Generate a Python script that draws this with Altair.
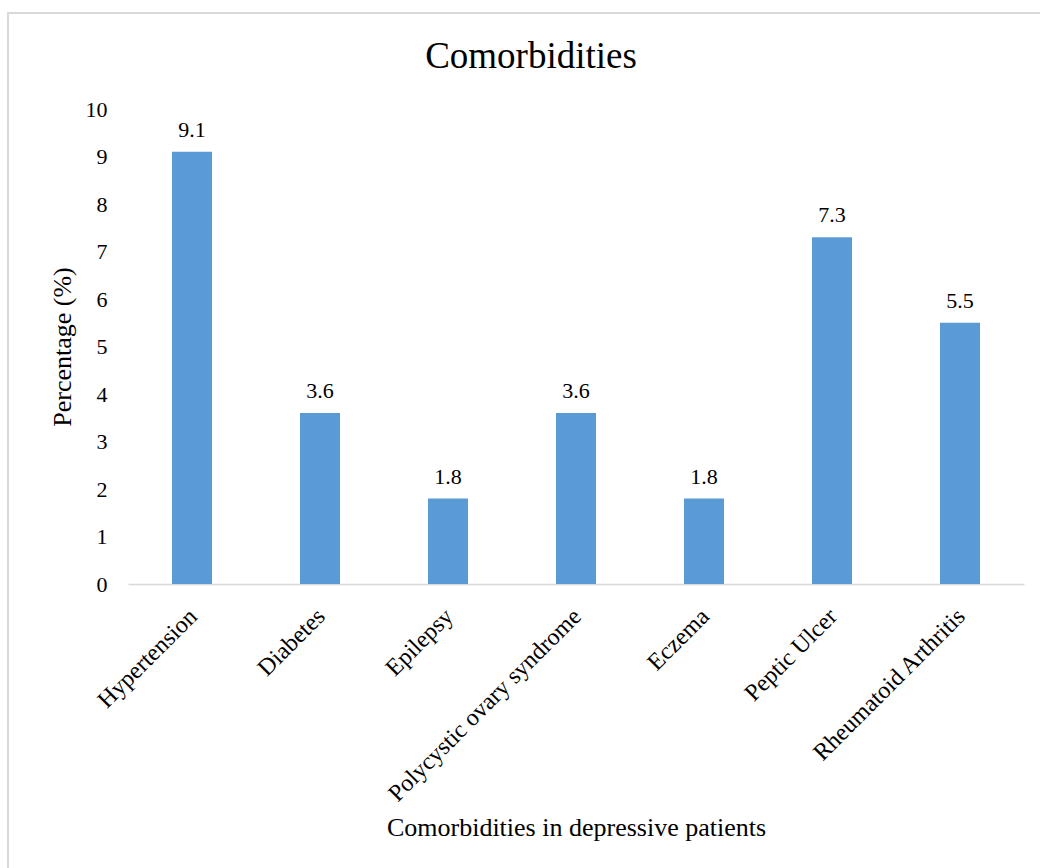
import altair as alt
import pandas as pd

categories = ["Hypertension", "Diabetes", "Epilepsy", "Polycystic ovary syndrome",
              "Eczema", "Peptic Ulcer", "Rheumatoid Arthritis"]
values = [9.1, 3.6, 1.8, 3.6, 1.8, 7.3, 5.5]
y_ticks = [0, 1, 2, 3, 4, 5, 6, 7, 8, 9, 10]
chart_title = "Comorbidities"

df = pd.DataFrame({"cat": categories, "val": values})
df["lbl"] = [f"{v:.1f}" for v in values]

FONT = "Liberation Serif"
W, H = 896, 475
LEFT, TOP = 128, 109

x_enc = alt.X("cat:N", sort=categories,
              axis=alt.Axis(title="Comorbidities in depressive patients",
                            labelAngle=-45, labelAlign="right", labelBaseline="top",
                            labelPadding=20, labelOffset=-7, labelFontSize=24,
                            labelLimit=0,
                            labelFont=FONT, labelColor="#000000",
                            ticks=False, domainColor="#d9d9d9", domainWidth=1.5,
                            titleFont=FONT, titleFontSize=26, titleFontWeight="normal",
                            titleColor="#000000", titleX=W / 2, titleY=243,
                            titleAlign="center", titleBaseline="middle"))
y_enc = alt.Y("val:Q", scale=alt.Scale(domain=[0, 10], nice=False),
              axis=alt.Axis(title="Percentage (%)", values=y_ticks, grid=False,
                            ticks=False, domain=False, labelPadding=21,
                            labelFont=FONT, labelFontSize=22, labelColor="#000000",
                            titleFont=FONT, titleFontSize=26, titleFontWeight="normal",
                            titleColor="#000000", titleAngle=270, titleX=-66,
                            titleY=H / 2, titleAlign="center", titleBaseline="middle"))

bars = alt.Chart(df).mark_bar(size=40, color="#5B9BD5").encode(x=x_enc, y=y_enc)

labels = alt.Chart(df).mark_text(
    font=FONT, fontSize=22, fontStyle="normal", fontWeight="normal",
    baseline="alphabetic", dy=-15, color="#000000"
).encode(x=alt.X("cat:N", sort=categories), y=alt.Y("val:Q"), text="lbl:N")

border = alt.Chart(alt.Data(values=[{}])).mark_rect(
    fillOpacity=0, stroke="#d9d9d9", strokeWidth=2
).encode(
    x=alt.value(8 - LEFT), x2=alt.value(1060 - LEFT),
    y=alt.value(13 - TOP), y2=alt.value(890 - TOP)
)

title_text = alt.Chart(alt.Data(values=[{}])).mark_text(
    font=FONT, fontSize=37, color="#000000", align="center", baseline="alphabetic"
).encode(
    x=alt.value(531 - LEFT), y=alt.value(68 - TOP), text=alt.value(chart_title)
)

chart = alt.layer(border, bars, labels, title_text).properties(
    width=W, height=H,
    background="white",
    autosize=alt.AutoSizeParams(type="none"),
    padding={"left": LEFT, "top": TOP, "right": 16, "bottom": 284},
).configure_view(strokeWidth=0, stroke="transparent").configure_text(font=FONT)

chart.save("out.html", embed_options={"renderer": "svg", "actions": False})
